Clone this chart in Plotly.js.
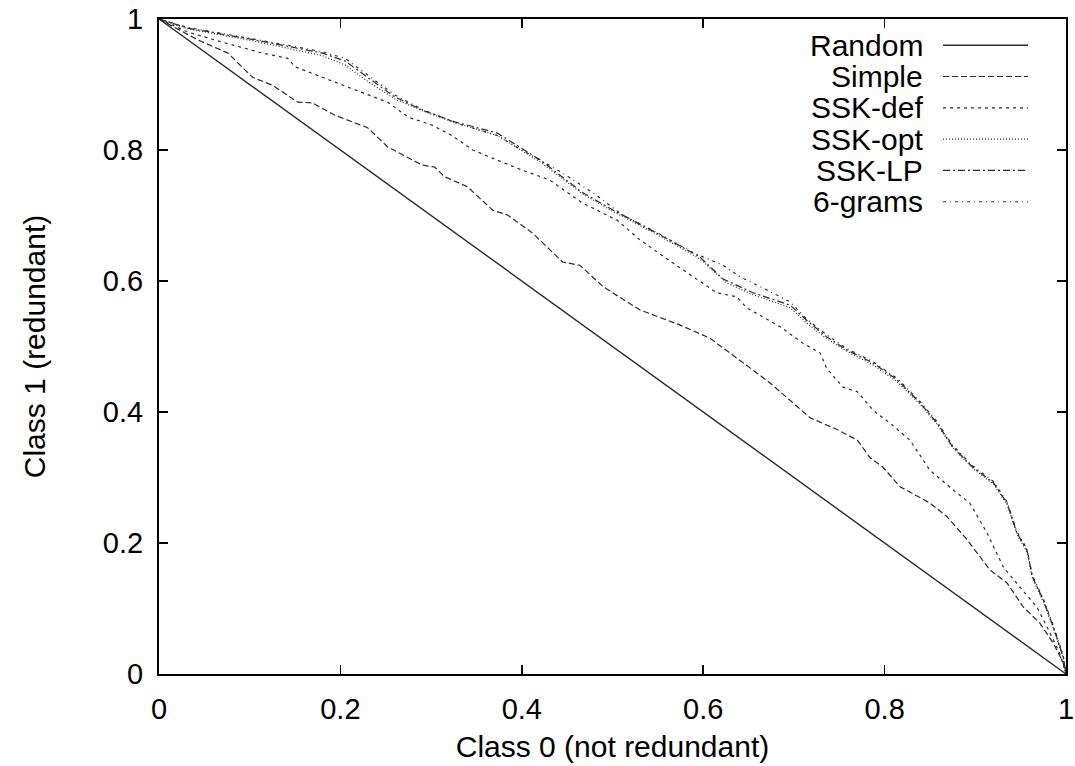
<!DOCTYPE html>
<html>
<head>
<meta charset="utf-8">
<script src="https://cdn.plot.ly/plotly-3.0.1.min.js"></script>
<style>html,body{margin:0;padding:0;background:#fff;}#chart{width:1075px;height:766px;}</style>
</head>
<body>
<div id="chart"></div>
<script>
// Series names (legend order)
const seriesNames = ["Random", "Simple", "SSK-def", "SSK-opt", "SSK-LP", "6-grams"];

// Random
const randomX = [0, 1];
const randomY = [1, 0];

// Simple
const simpleX = [0, 0.043, 0.076, 0.103, 0.125, 0.153, 0.169, 0.194, 0.230, 0.252, 0.290, 0.304, 0.315, 0.340, 0.368, 0.384, 0.412, 0.445, 0.464, 0.490, 0.530, 0.574, 0.607, 0.630, 0.652, 0.674, 0.699, 0.718, 0.748, 0.770, 0.784, 0.798, 0.817, 0.850, 0.869, 0.891, 0.916, 0.935, 0.953, 0.971, 0.986, 0.997, 1];
const simpleY = [1, 0.968, 0.948, 0.911, 0.899, 0.873, 0.872, 0.853, 0.834, 0.805, 0.777, 0.774, 0.759, 0.744, 0.708, 0.701, 0.673, 0.629, 0.624, 0.591, 0.556, 0.533, 0.513, 0.490, 0.467, 0.444, 0.414, 0.391, 0.373, 0.357, 0.330, 0.316, 0.286, 0.261, 0.240, 0.205, 0.159, 0.139, 0.102, 0.078, 0.047, 0.017, 0];

// SSK-def
const sskDefX = [0, 0.032, 0.069, 0.114, 0.142, 0.150, 0.180, 0.216, 0.252, 0.275, 0.301, 0.323, 0.346, 0.365, 0.401, 0.431, 0.467, 0.505, 0.530, 0.567, 0.589, 0.615, 0.637, 0.648, 0.685, 0.710, 0.729, 0.736, 0.754, 0.770, 0.787, 0.806, 0.828, 0.850, 0.880, 0.894, 0.913, 0.931, 0.949, 0.968, 0.979, 0.993, 1];
const sskDefY = [1, 0.980, 0.965, 0.948, 0.940, 0.927, 0.911, 0.892, 0.873, 0.850, 0.838, 0.822, 0.800, 0.789, 0.769, 0.754, 0.719, 0.693, 0.663, 0.627, 0.606, 0.582, 0.576, 0.559, 0.530, 0.505, 0.490, 0.467, 0.438, 0.431, 0.403, 0.383, 0.357, 0.311, 0.276, 0.261, 0.215, 0.163, 0.133, 0.102, 0.072, 0.032, 0];

// SSK-opt
const sskOptX = [0, 0.032, 0.106, 0.180, 0.205, 0.230, 0.260, 0.290, 0.326, 0.373, 0.420, 0.467, 0.501, 0.549, 0.596, 0.626, 0.655, 0.696, 0.714, 0.736, 0.758, 0.787, 0.814, 0.839, 0.858, 0.875, 0.897, 0.920, 0.935, 0.946, 0.957, 0.963, 0.975, 0.986, 0.997, 1];
const sskOptY = [1, 0.985, 0.966, 0.944, 0.930, 0.905, 0.878, 0.860, 0.842, 0.822, 0.782, 0.733, 0.706, 0.671, 0.634, 0.597, 0.579, 0.559, 0.536, 0.512, 0.493, 0.472, 0.446, 0.412, 0.381, 0.346, 0.314, 0.290, 0.259, 0.213, 0.186, 0.146, 0.110, 0.070, 0.024, 0];

// SSK-LP
const sskLpX = [0, 0.032, 0.106, 0.180, 0.205, 0.230, 0.260, 0.290, 0.326, 0.373, 0.420, 0.467, 0.501, 0.549, 0.596, 0.622, 0.655, 0.696, 0.714, 0.736, 0.758, 0.787, 0.814, 0.839, 0.858, 0.875, 0.897, 0.920, 0.935, 0.946, 0.957, 0.963, 0.975, 0.986, 0.997, 1];
const sskLpY = [1, 0.986, 0.968, 0.948, 0.936, 0.911, 0.881, 0.861, 0.843, 0.826, 0.785, 0.735, 0.708, 0.673, 0.637, 0.603, 0.582, 0.563, 0.540, 0.515, 0.495, 0.475, 0.449, 0.414, 0.383, 0.347, 0.316, 0.292, 0.261, 0.215, 0.189, 0.148, 0.113, 0.072, 0.026, 0];

// 6-grams
const sixGramsX = [0, 0.032, 0.106, 0.180, 0.205, 0.230, 0.260, 0.290, 0.326, 0.373, 0.400, 0.445, 0.479, 0.512, 0.549, 0.589, 0.622, 0.641, 0.665, 0.696, 0.714, 0.736, 0.758, 0.787, 0.814, 0.839, 0.858, 0.875, 0.897, 0.920, 0.935, 0.946, 0.957, 0.963, 0.975, 0.986, 0.997, 1];
const sixGramsY = [1, 0.987, 0.969, 0.950, 0.940, 0.915, 0.884, 0.862, 0.842, 0.822, 0.800, 0.765, 0.734, 0.700, 0.674, 0.643, 0.624, 0.606, 0.590, 0.568, 0.542, 0.518, 0.497, 0.477, 0.451, 0.416, 0.385, 0.349, 0.318, 0.294, 0.263, 0.217, 0.191, 0.150, 0.115, 0.074, 0.028, 0];

const xs = [randomX, simpleX, sskDefX, sskOptX, sskLpX, sixGramsX];
const ys = [randomY, simpleY, sskDefY, sskOptY, sskLpY, sixGramsY];
const dashes = ["solid", "6px,3px", "3px,4px", "1px,2px", "7px,3px,2px,3px", "3px,4px,1px,4px"];
const widths = [1.4, 1.2, 1.2, 1.2, 1.2, 1.2];
const lineColor = "#2a2a2a";

const traces = seriesNames.map((n, i) => ({
  x: xs[i], y: ys[i], type: "scatter", mode: "lines", name: n,
  line: {color: lineColor, width: widths[i], dash: dashes[i]},
  showlegend: false, hoverinfo: "skip"
}));

const fam = "Liberation Sans, Arial, sans-serif";
const titleFont = {family: fam, size: 30, color: "#000"};
const tickFont = {family: fam, size: 29, color: "#000"};

// Custom gnuplot-style legend (text right-aligned, sample on the right)
const legTextX = 0.8445, legLineX0 = 0.8644, legLineX1 = 0.9581;
const legTop = 0.960, legStep = 0.0478;
const annotations = [];
const shapes = [];
seriesNames.forEach((n, i) => {
  const y = legTop - i * legStep;
  annotations.push({xref: "paper", yref: "paper", x: legTextX, y: y, xanchor: "right", yanchor: "middle",
    text: n, showarrow: false, font: titleFont});
  shapes.push({type: "line", xref: "paper", yref: "paper", x0: legLineX0, x1: legLineX1, y0: y, y1: y,
    line: {color: lineColor, width: widths[i], dash: dashes[i]}});
});

const tickVals = [0, 0.2, 0.4, 0.6, 0.8, 1];
const tickText = ["0", "0.2", "0.4", "0.6", "0.8", "1"];

const axisCommon = {
  range: [0, 1], tickvals: tickVals, ticktext: tickText, ticks: "inside", ticklen: 9, tickwidth: 1.5,
  tickcolor: "#000", showline: true, linecolor: "#000", linewidth: 2, mirror: "ticks",
  showgrid: false, zeroline: false, tickfont: tickFont, fixedrange: true
};

const layout = {
  width: 1075, height: 766,
  margin: {l: 159, r: 9, t: 19, b: 92},
  paper_bgcolor: "#fff", plot_bgcolor: "#fff",
  font: tickFont,
  xaxis: Object.assign({}, axisCommon, {title: {text: "Class 0 (not redundant)", font: titleFont, standoff: 12}, ticklabelstandoff: 8}),
  yaxis: Object.assign({}, axisCommon, {title: {text: "Class 1 (redundant)", font: titleFont, standoff: 48}, ticklabelstandoff: 8}),
  showlegend: false,
  annotations: annotations,
  shapes: shapes
};

Plotly.newPlot("chart", traces, layout, {displayModeBar: false, staticPlot: true});
</script>
</body>
</html>
